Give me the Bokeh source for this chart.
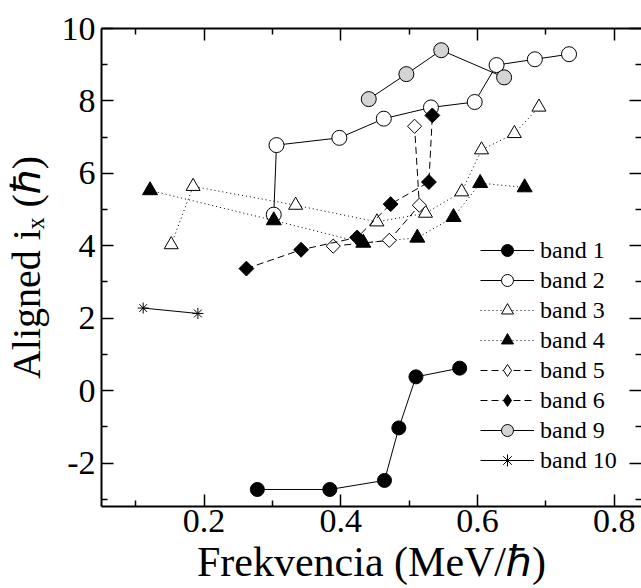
import math
from bokeh.plotting import figure
from bokeh.models import Range1d, LinearAxis, FixedTicker, Legend, LegendItem, CustomJSTickFormatter
from bokeh.embed import file_html
from bokeh.resources import INLINE

# ---- data ----
band1_x = [0.278, 0.384, 0.464, 0.485, 0.510, 0.574]
band1_y = [-2.73, -2.73, -2.48, -1.03, 0.38, 0.62]
band2_x = [0.302, 0.306, 0.398, 0.463, 0.532, 0.596, 0.628, 0.684, 0.734]
band2_y = [4.86, 6.78, 6.98, 7.51, 7.82, 7.97, 8.99, 9.15, 9.29]
band3_x = [0.152, 0.184, 0.334, 0.453, 0.524, 0.577, 0.606, 0.654, 0.690]
band3_y = [4.03, 5.64, 5.12, 4.66, 4.90, 5.49, 6.65, 7.10, 7.83]
band4_x = [0.121, 0.302, 0.433, 0.512, 0.565, 0.604, 0.669]
band4_y = [5.53, 4.70, 4.08, 4.22, 4.79, 5.73, 5.61]
band5_x = [0.389, 0.471, 0.515, 0.508]
band5_y = [3.99, 4.15, 5.12, 7.30]
band6_x = [0.262, 0.342, 0.424, 0.473, 0.529, 0.534]
band6_y = [3.37, 3.89, 4.23, 5.15, 5.76, 7.60]
band9_x = [0.441, 0.496, 0.547, 0.639]
band9_y = [8.05, 8.74, 9.40, 8.65]
band10_x = [0.111, 0.191]
band10_y = [2.28, 2.13]

band_labels = ["band 1", "band 2", "band 3", "band 4", "band 5", "band 6", "band 9", "band 10"]
x_ticks = [0.2, 0.4, 0.6, 0.8]
x_minor = [0.1, 0.3, 0.5, 0.7]
y_ticks = [-2, 0, 2, 4, 6, 8, 10]
y_minor = [-3, -1, 1, 3, 5, 7, 9]
y_tick_text = {-2: "-2"}

FONT = "Liberation Serif"
NAN = float("nan")

p = figure(width=641, height=588, output_backend="svg", toolbar_location=None,
           x_range=Range1d(0.05, 0.840), y_range=Range1d(-3.2, 10),
           min_border_left=101, min_border_right=0, min_border_top=28, min_border_bottom=82,
           background_fill_color="white", border_fill_color="white")
p.grid.visible = False
p.outline_line_color = None

xt = FixedTicker(ticks=x_ticks, minor_ticks=x_minor)
yt = FixedTicker(ticks=y_ticks, minor_ticks=y_minor)


def style(ax):
    ax.axis_line_width = 2
    ax.axis_line_color = "black"
    ax.major_tick_in = 12
    ax.major_tick_out = 0
    ax.minor_tick_in = 6
    ax.minor_tick_out = 0
    ax.major_tick_line_width = 1.5
    ax.minor_tick_line_width = 1.5
    ax.major_tick_line_color = "black"
    ax.minor_tick_line_color = "black"
    ax.major_label_text_font = FONT
    ax.major_label_text_font_size = "34px"
    ax.major_label_text_color = "black"
    ax.axis_label_text_font = FONT
    ax.axis_label_text_font_size = "40px"
    ax.axis_label_text_font_style = "normal"
    ax.axis_label_text_color = "black"


xa = p.xaxis[0]
xa.ticker = xt
style(xa)
xa.axis_label = "Frekvencia (MeV/ℏ)"
xa.axis_label_text_font_size = "42px"
xa.major_label_standoff = 3
xa.axis_label_standoff = 4

ya = p.yaxis[0]
ya.ticker = yt
style(ya)
ya.major_label_overrides = y_tick_text
ya.axis_label = "Aligned iₓ (ℏ)"
ya.major_label_standoff = 6
ya.axis_label_standoff = 10

top = LinearAxis(ticker=xt, formatter=CustomJSTickFormatter(code="return ''"))
style(top)
top.major_label_text_font_size = "1px"
top.major_label_standoff = 0
p.add_layout(top, "above")

right = LinearAxis(ticker=yt, formatter=CustomJSTickFormatter(code="return ''"))
style(right)
right.axis_line_color = None
right.major_label_text_font_size = "1px"
right.major_label_standoff = 0
p.add_layout(right, "right")

series = [
    (band1_x, band1_y, "circle", 14, "black", "solid", 0),
    (band2_x, band2_y, "circle", 15, "white", "solid", 0),
    (band3_x, band3_y, "triangle", 14, "white", "1 3", 0),
    (band4_x, band4_y, "triangle", 15, "black", "1 3", 0),
    (band5_x, band5_y, "square", 10, "white", "7 4", math.pi / 4),
    (band6_x, band6_y, "square", 10.5, "black", "7 4", math.pi / 4),
    (band9_x, band9_y, "circle", 15, "#d4d4d4", "solid", 0),
    (band10_x, band10_y, "asterisk", 11, "black", "solid", 0),
]

items = []
for (xs, ys, mk, sz, fill, dash, ang), lab in zip(series, band_labels):
    lr = p.line(xs, ys, line_color="black", line_width=1, line_dash=dash)
    sr = p.scatter(xs, ys, marker=mk, size=sz, fill_color=fill, line_color="black",
                   line_width=1, angle=ang)
    if mk == "square":
        # legend-only swatch (no drawable point): upright diamond,
        # since the legend ignores the marker angle
        sr = p.scatter([NAN], [NAN], marker="diamond", size=16, fill_color=fill,
                       line_color="black", line_width=1)
    items.append(LegendItem(label=lab, renderers=[lr, sr]))

legend = Legend(items=items, location=(379, 31), orientation="vertical",
                label_text_font=FONT, label_text_font_size="24px", label_text_color="black",
                glyph_width=54, glyph_height=30, label_height=30, spacing=0,
                padding=0, margin=0, border_line_color=None, background_fill_alpha=0,
                label_standoff=6)
p.add_layout(legend)

open("out.html", "w").write(file_html(p, INLINE))
